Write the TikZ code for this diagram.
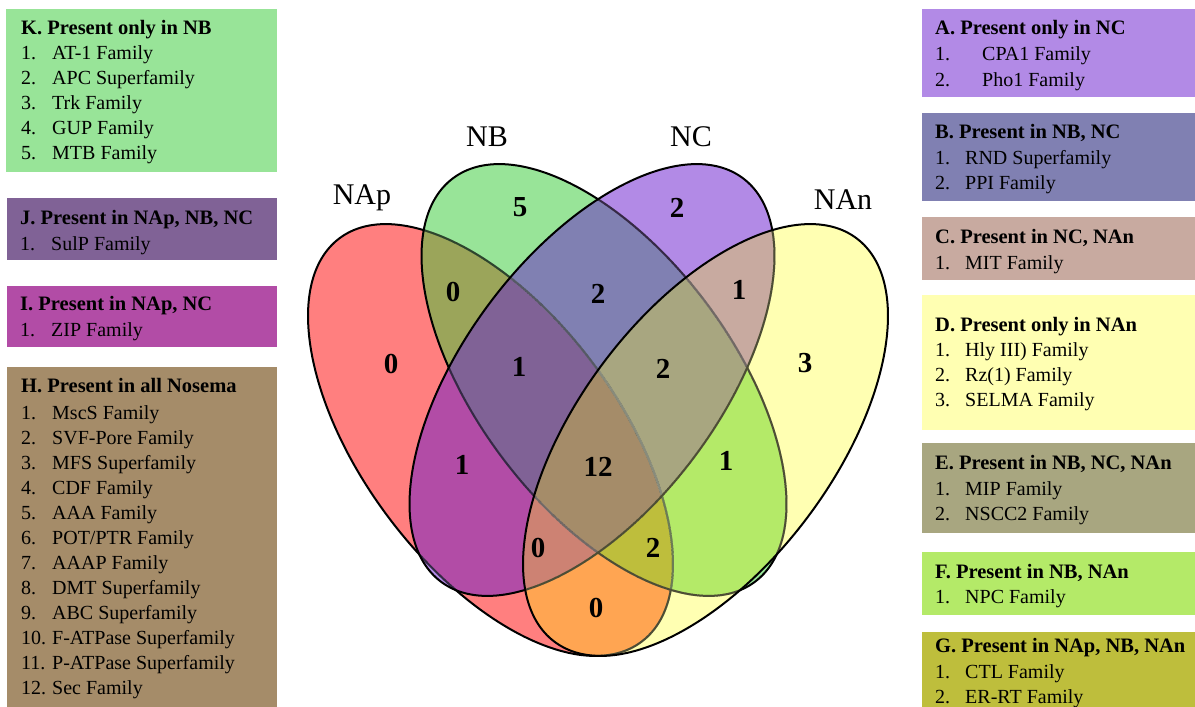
\documentclass[tikz,border=0pt]{standalone}
\usepackage{fontspec}
\setmainfont{Liberation Serif}

% region colours (single sets, pairs, triples, all four)
\definecolor{cAp}{HTML}{FF7F7F}
\definecolor{cB}{HTML}{98E498}
\definecolor{cC}{HTML}{B28AE6}
\definecolor{cAn}{HTML}{FFFFB2}
\definecolor{cApB}{HTML}{9BA55A}
\definecolor{cApC}{HTML}{B24CA6}
\definecolor{cApAn}{HTML}{FFA552}
\definecolor{cBC}{HTML}{8080B2}
\definecolor{cBAn}{HTML}{B4EA68}
\definecolor{cCAn}{HTML}{C8AAA0}
\definecolor{cApBC}{HTML}{806296}
\definecolor{cApBAn}{HTML}{BEBE3C}
\definecolor{cApCAn}{HTML}{CD8273}
\definecolor{cBCAn}{HTML}{A8A680}
\definecolor{cAll}{HTML}{A58C69}

% the four ellipses
\def\ellAp{(490.5,-440) ellipse [x radius=252, y radius=128, rotate=-53.2]}
\def\ellB{(604,-380) ellipse [x radius=252, y radius=128, rotate=-53.2]}
\def\ellC{(592,-380) ellipse [x radius=252, y radius=128, rotate=53.2]}
\def\ellAn{(705.5,-440) ellipse [x radius=252, y radius=128, rotate=53.2]}

\newcommand\litem[2]{\makebox[31pt][l]{#1}#2}
\newcommand\ritem[2]{\makebox[30pt][l]{#1}#2}
\newcommand\aitem[2]{\makebox[47pt][l]{#1}#2}

\begin{document}
\begin{tikzpicture}[x=1pt,y=1pt,
  outl/.style={draw=black,line width=2},
  tintline/.style={draw=#1,draw opacity=0.3,line width=2.2},
  setlabel/.style={font=\fontsize{30}{30}\selectfont,anchor=base,inner sep=0},
  count/.style={font=\fontsize{29}{29}\selectfont\bfseries,anchor=center,inner sep=0},
  panel/.style={rectangle,inner sep=0,anchor=north west,draw=none},
  head/.style={font=\fontsize{20.5}{25}\selectfont\bfseries,anchor=base west,inner sep=0},
  entry/.style={font=\fontsize{20}{25}\selectfont,anchor=base west,inner sep=0}]
\useasboundingbox (0,0) rectangle (1195,-707);

% ---------- Venn regions ----------
\fill[cAp] \ellAp;
\fill[cB] \ellB;
\fill[cC] \ellC;
\fill[cAn] \ellAn;
\begin{scope}\clip \ellAp; \fill[cApB] \ellB; \end{scope}
\begin{scope}\clip \ellAp; \fill[cApC] \ellC; \end{scope}
\begin{scope}\clip \ellAp; \fill[cApAn] \ellAn; \end{scope}
\begin{scope}\clip \ellB; \fill[cBC] \ellC; \end{scope}
\begin{scope}\clip \ellB; \fill[cBAn] \ellAn; \end{scope}
\begin{scope}\clip \ellC; \fill[cCAn] \ellAn; \end{scope}
\begin{scope}\clip \ellAp; \clip \ellB; \fill[cApBC] \ellC; \end{scope}
\begin{scope}\clip \ellAp; \clip \ellB; \fill[cApBAn] \ellAn; \end{scope}
\begin{scope}\clip \ellAp; \clip \ellC; \fill[cApCAn] \ellAn; \end{scope}
\begin{scope}\clip \ellB; \clip \ellC; \fill[cBCAn] \ellAn; \end{scope}
\begin{scope}\clip \ellAp; \clip \ellB; \clip \ellC; \fill[cAll] \ellAn; \end{scope}

% ---------- outlines, tinted where later sets lie over them ----------
\draw[outl] \ellAp;
\begin{scope}\clip \ellB; \draw[tintline=cB] \ellAp; \end{scope}
\begin{scope}\clip \ellC; \draw[tintline=cC] \ellAp; \end{scope}
\begin{scope}\clip \ellAn; \draw[tintline=cAn] \ellAp; \end{scope}
\draw[outl] \ellB;
\begin{scope}\clip \ellC; \draw[tintline=cC] \ellB; \end{scope}
\begin{scope}\clip \ellAn; \draw[tintline=cAn] \ellB; \end{scope}
\draw[outl] \ellC;
\begin{scope}\clip \ellAn; \draw[tintline=cAn] \ellC; \end{scope}
\draw[outl] \ellAn;

% ---------- set names ----------
\node[setlabel] (lAp) at (362,-204) {NAp};
\node[setlabel] (lB) at (487,-146.5) {NB};
\node[setlabel] (lC) at (691,-146.5) {NC};
\node[setlabel] (lAn) at (843,-209) {NAn};

% ---------- counts ----------
\node[count] (nAp) at (391,-364) {0};
\node[count] (nB) at (520,-207) {5};
\node[count] (nC) at (677,-208) {2};
\node[count] (nAn) at (805,-363) {3};
\node[count] (nApB) at (453,-292) {0};
\node[count] (nBC) at (598,-294) {2};
\node[count] (nCAn) at (739,-290) {1};
\node[count] (nApBC) at (519,-367) {1};
\node[count] (nBCAn) at (663,-369) {2};
\node[count] (nApC) at (462,-465) {1};
\node[count] (nAll) at (598,-467) {12};
\node[count] (nBAn) at (726,-461) {1};
\node[count] (nApCAn) at (538,-548) {0};
\node[count] (nApBAn) at (653,-548) {2};
\node[count] (nApAn) at (596,-608) {0};

% ---------- left panels ----------
\node[panel,fill=cB,minimum width=271,minimum height=163] (boxK) at (6,-9) {};
\node[head] (hK) at (21,-34) {K. Present only in NB};
\node[entry] (k1) at (21,-59.5) {\litem{1.}{AT-1 Family}};
\node[entry] (k2) at (21,-84.5) {\litem{2.}{APC Superfamily}};
\node[entry] (k3) at (21,-109.5) {\litem{3.}{Trk Family}};
\node[entry] (k4) at (21,-134.5) {\litem{4.}{GUP Family}};
\node[entry] (k5) at (21,-159.5) {\litem{5.}{MTB Family}};

\node[panel,fill=cApBC,minimum width=270,minimum height=62] (boxJ) at (7,-198) {};
\node[head] (hJ) at (20,-224.5) {J. Present in NAp, NB, NC};
\node[entry] (j1) at (20,-250.5) {\litem{1.}{SulP Family}};

\node[panel,fill=cApC,minimum width=270,minimum height=61] (boxI) at (7,-286) {};
\node[head] (hI) at (20,-310.5) {I. Present in NAp, NC};
\node[entry] (i1) at (20,-336.5) {\litem{1.}{ZIP Family}};

\node[panel,fill=cAll,minimum width=270,minimum height=341] (boxH) at (7,-367) {};
\node[head] (hH) at (21,-392.5) {H. Present in all Nosema};
\node[entry] (h1) at (21,-419.5) {\litem{1.}{MscS Family}};
\node[entry] (h2) at (21,-444.5) {\litem{2.}{SVF-Pore Family}};
\node[entry] (h3) at (21,-469.5) {\litem{3.}{MFS Superfamily}};
\node[entry] (h4) at (21,-494.5) {\litem{4.}{CDF Family}};
\node[entry] (h5) at (21,-519.5) {\litem{5.}{AAA Family}};
\node[entry] (h6) at (21,-544.5) {\litem{6.}{POT/PTR Family}};
\node[entry] (h7) at (21,-569.5) {\litem{7.}{AAAP Family}};
\node[entry] (h8) at (21,-594.5) {\litem{8.}{DMT Superfamily}};
\node[entry] (h9) at (21,-619.5) {\litem{9.}{ABC Superfamily}};
\node[entry] (h10) at (21,-644.5) {\litem{10.}{F-ATPase Superfamily}};
\node[entry] (h11) at (21,-669.5) {\litem{11.}{P-ATPase Superfamily}};
\node[entry] (h12) at (21,-694.5) {\litem{12.}{Sec Family}};

% ---------- right panels ----------
\node[panel,fill=cC,minimum width=274,minimum height=88] (boxA) at (921.5,-9) {};
\node[head] (hA) at (935,-34.5) {A. Present only in NC};
\node[entry] (a1) at (935,-60.5) {\aitem{1.}{CPA1 Family}};
\node[entry] (a2) at (935,-86.5) {\aitem{2.}{Pho1 Family}};

\node[panel,fill=cBC,minimum width=274,minimum height=88] (boxB) at (921.5,-113) {};
\node[head] (hB) at (935,-138.5) {B. Present in NB, NC};
\node[entry] (b1) at (935,-164.5) {\ritem{1.}{RND Superfamily}};
\node[entry] (b2) at (935,-189.5) {\ritem{2.}{PPI Family}};

\node[panel,fill=cCAn,minimum width=274,minimum height=63] (boxC) at (921.5,-217) {};
\node[head] (hC) at (935,-243.5) {C. Present in NC, NAn};
\node[entry] (c1) at (935,-269.5) {\ritem{1.}{MIT Family}};

\node[panel,fill=cAn,minimum width=274,minimum height=135] (boxD) at (921.5,-295) {};
\node[head] (hD) at (935,-331.5) {D. Present only in NAn};
\node[entry] (d1) at (935,-356.5) {\ritem{1.}{Hly III) Family}};
\node[entry] (d2) at (935,-381.5) {\ritem{2.}{Rz(1) Family}};
\node[entry] (d3) at (935,-406.5) {\ritem{3.}{SELMA Family}};

\node[panel,fill=cBCAn,minimum width=274,minimum height=90] (boxE) at (921.5,-443) {};
\node[head] (hE) at (935,-469.5) {E. Present in NB, NC, NAn};
\node[entry] (e1) at (935,-495.5) {\ritem{1.}{MIP Family}};
\node[entry] (e2) at (935,-520.5) {\ritem{2.}{NSCC2 Family}};

\node[panel,fill=cBAn,minimum width=274,minimum height=63] (boxF) at (921.5,-552) {};
\node[head] (hF) at (935,-578.5) {F. Present in NB, NAn};
\node[entry] (f1) at (935,-603.5) {\ritem{1.}{NPC Family}};

\node[panel,fill=cApBAn,minimum width=274,minimum height=76] (boxG) at (921.5,-632) {};
\node[head] (hG) at (935,-652.5) {G. Present in NAp, NB, NAn};
\node[entry] (g1) at (935,-678) {\ritem{1.}{CTL Family}};
\node[entry] (g2) at (935,-703) {\ritem{2.}{ER-RT Family}};
\end{tikzpicture}
\end{document}
